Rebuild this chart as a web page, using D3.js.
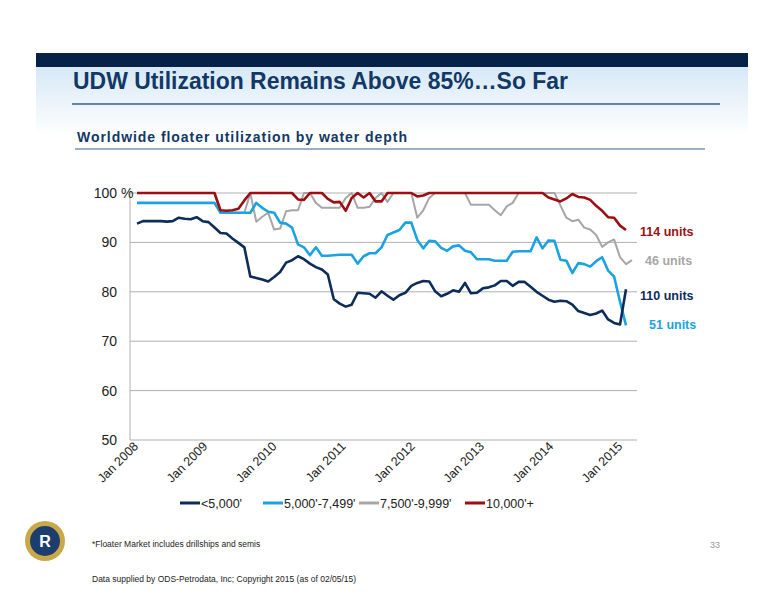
<!DOCTYPE html>
<html><head><meta charset="utf-8">
<script src="https://cdn.jsdelivr.net/npm/d3@7"></script>
<style>body{margin:0;background:#fff;font-family:"Liberation Sans",Arial,sans-serif}</style>
</head><body><svg id="c" width="776" height="600"></svg>
<script>
// monthly points, Jan 2008 onwards
var lt5000 = [93.8,94.3,94.3,94.3,94.3,94.2,94.3,95,94.8,94.7,95.1,94.3,94.1,93,91.9,91.8,90.8,89.9,89,83.1,82.8,82.5,82.1,83,84,85.9,86.4,87.2,86.6,85.7,85,84.5,83.5,78.5,77.6,77,77.4,79.8,79.7,79.6,78.8,80.1,79.2,78.4,79.3,79.8,81.2,81.8,82.2,82.1,80.1,79.1,79.6,80.3,80,81.8,79.7,79.8,80.7,80.9,81.3,82.2,82.2,81.2,82,82,81,80,79.2,78.4,78,78.2,78.1,77.4,76.1,75.7,75.3,75.6,76.2,74.4,73.7,73.4,80.5];
var mid5000 = [98,98,98,98,98,98,98,98,98,98,98,98,98,98,96,96,96,96,96,96,98,97,96.2,96,94,93.8,93,89.6,89,87.4,89,87.3,87.3,87.4,87.5,87.5,87.5,85.7,87.2,87.8,87.8,89,91.5,92,92.5,94,94,90.5,88.8,90.3,90.2,88.9,88.3,89.2,89.4,88.3,88,86.6,86.6,86.6,86.3,86.3,86.3,88.1,88.2,88.2,88.2,91,88.8,90.4,90.3,86.5,86.3,83.8,85.8,85.6,85.1,86.2,87,84.3,83.1,78,73.2];
var mid7500 = [100,100,100,100,100,100,100,100,100,100,100,100,100,100,96,96,96,96,96,100,94.2,95.2,96,92.6,92.8,96.3,96.5,96.5,100,100,98,97,97,97,97,99,100,97,97,97.2,99,100,98.2,100,100,100,100,95,96.5,99,100,100,100,100,100,100,97.6,97.6,97.6,97.6,96.5,95.5,97.3,98,100,100,100,100,100,100,100,97.5,95,94.3,94.6,93,92.6,91.5,89.1,90,90.6,87,85.6,86.4];
var gt10000 = [100,100,100,100,100,100,100,100,100,100,100,100,100,100,96.5,96.4,96.5,96.8,98.5,100,100,100,100,100,100,100,100,98.7,98.6,100,100,100,98.8,98.1,98.2,96.4,99,100,99.1,100,98.3,98.3,100,100,100,100,100,99.3,99.5,100,100,100,100,100,100,100,100,100,100,100,100,100,100,100,100,100,100,100,100,99.1,98.7,98.3,98.9,99.8,99.2,99.1,98.6,97.4,96.4,95.1,95,93.4,92.5];
var seriesNames = ["<5,000'","5,000'-7,499'","7,500'-9,999'","10,000'+"];
var seriesColors = ["#0d2c5a","#1aa3e0","#a6a6a6","#9b0f12"];
var endLabels = ["110 units","51 units","46 units","114 units"];
var endLabelY = [79.1,73.3,86.2,92.1];
var yTicks = [50,60,70,80,90,100];
var xTickLabels = ["Jan 2008","Jan 2009","Jan 2010","Jan 2011","Jan 2012","Jan 2013","Jan 2014","Jan 2015"];

var svg = d3.select("#c");
var navy = "#123866";

// header
var g = svg.append("defs").append("linearGradient").attr("id","hg").attr("x1",0).attr("y1",0).attr("x2",0).attr("y2",1);
g.append("stop").attr("offset","0").attr("stop-color","#d6e8f6");
g.append("stop").attr("offset","1").attr("stop-color","#ffffff");
svg.append("rect").attr("x",36).attr("y",66).attr("width",712).attr("height",70).attr("fill","url(#hg)");
svg.append("rect").attr("x",36).attr("y",53).attr("width",712).attr("height",14).attr("fill","#062246");
svg.append("text").attr("x",73).attr("y",89).attr("fill",navy).attr("font-size",23).attr("font-weight","bold")
  .attr("textLength",495).attr("lengthAdjust","spacingAndGlyphs").text("UDW Utilization Remains Above 85%…So Far");
svg.append("line").attr("x1",72).attr("x2",720).attr("y1",104).attr("y2",104).attr("stroke","#3b5f8a").attr("stroke-width",1.5);
svg.append("text").attr("x",77).attr("y",142).attr("fill",navy).attr("font-size",14).attr("font-weight","bold")
  .attr("textLength",330).text("Worldwide floater utilization by water depth");
svg.append("line").attr("x1",75).attr("x2",705).attr("y1",149).attr("y2",149).attr("stroke","#3b5f8a").attr("stroke-width",1);

var x = d3.scaleLinear().domain([0,82]).range([137,626]);
var y = d3.scaleLinear().domain([50,100]).range([440,193]);

svg.append("g").selectAll("line").data(yTicks).join("line")
  .attr("x1",130).attr("x2",637).attr("y1",d=>y(d)).attr("y2",d=>y(d)).attr("stroke","#b0b0b0");
svg.append("line").attr("x1",130).attr("x2",130).attr("y1",193).attr("y2",440).attr("stroke","#b0b0b0");
svg.append("g").selectAll("text").data(yTicks).join("text")
  .attr("x",117).attr("y",d=>y(d)+5).attr("text-anchor","end").attr("font-size",14).attr("fill","#222")
  .text(d=>d);
svg.append("text").attr("x",121).attr("y",y(100)+5).attr("font-size",14).attr("fill","#222").text("%");

svg.append("g").selectAll("text").data(xTickLabels).join("text")
  .attr("transform",(d,i)=>"translate("+(x(i*11.6)+2)+",447) rotate(-45)")
  .attr("text-anchor","end").attr("font-size",12.5).attr("fill","#222").text(d=>d);

var all = [lt5000, mid5000, mid7500, gt10000];
var line = d3.line().x((d,i)=>x(i)).y(d=>y(d));
[2,1,0,3].forEach(function(k){
  svg.append("path").datum(all[k]).attr("d",line).attr("fill","none")
    .attr("stroke",seriesColors[k]).attr("stroke-width",k==2?2:2.6).attr("stroke-linejoin","round");
});
svg.append("g").selectAll("text").data(endLabels).join("text")
  .attr("x",(d,i)=>i==2?645:(i==1?649:640)).attr("y",(d,i)=>y(endLabelY[i])+4).attr("font-size",12.5).attr("font-weight","bold")
  .attr("fill",(d,i)=>seriesColors[i]).text(d=>d);

// legend
var lx = [180,263,359,465];
var leg = svg.append("g").selectAll("g").data(seriesNames).join("g").attr("transform",(d,i)=>"translate("+lx[i]+",503)");
leg.append("line").attr("x1",0).attr("x2",20).attr("stroke",(d,i)=>seriesColors[i]).attr("stroke-width",3);
leg.append("text").attr("x",21).attr("y",5).attr("font-size",12.5).attr("fill","#222").text(d=>d);

// logo & footer
svg.append("circle").attr("cx",45).attr("cy",541).attr("r",20).attr("fill","#c9a84a");
svg.append("circle").attr("cx",45).attr("cy",541).attr("r",15).attr("fill","#1d3d6e");
svg.append("text").attr("x",45).attr("y",547).attr("text-anchor","middle").attr("font-size",16).attr("font-weight","bold").attr("fill","#fff").text("R");
svg.append("text").attr("x",92).attr("y",547).attr("font-size",8.5).attr("fill","#222").text("*Floater Market includes drillships and semis");
svg.append("text").attr("x",92).attr("y",582).attr("font-size",8.5).attr("fill","#222").text("Data supplied by ODS-Petrodata, Inc; Copyright 2015 (as of 02/05/15)");
svg.append("text").attr("x",720).attr("y",548).attr("text-anchor","end").attr("font-size",9).attr("fill","#999").text("33");
</script></body></html>
